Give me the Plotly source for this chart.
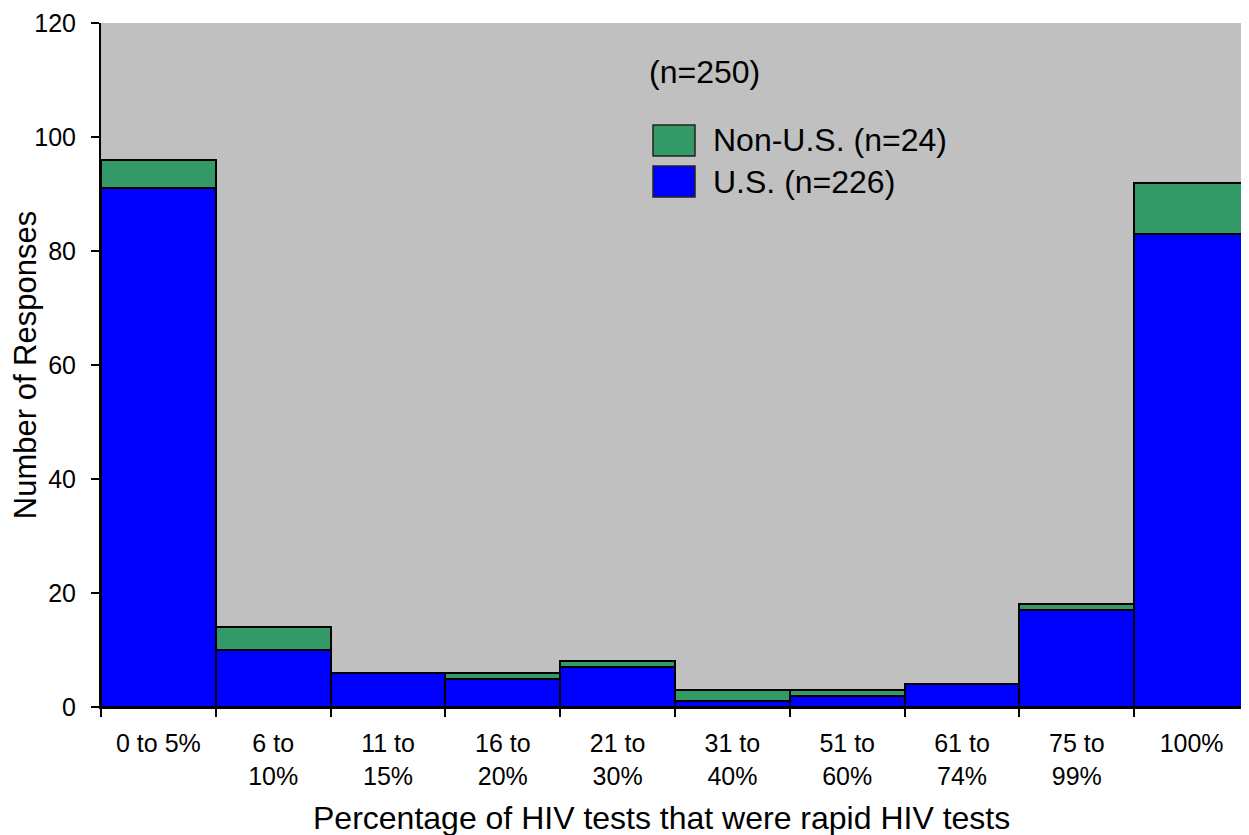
import plotly.graph_objects as go

categories = ["0 to 5%", "6 to<br>10%", "11 to<br>15%", "16 to<br>20%", "21 to<br>30%",
              "31 to<br>40%", "51 to<br>60%", "61 to<br>74%", "75 to<br>99%", "100%"]
us_values = [91, 10, 6, 5, 7, 1, 2, 4, 17, 83]
non_us_values = [5, 4, 0, 1, 1, 2, 1, 0, 1, 9]
y_ticks = [0, 20, 40, 60, 80, 100, 120]

FONT = "Liberation Sans, Arial, sans-serif"
BLUE = "#0000FF"
GREEN = "#339966"

fig = go.Figure()
fig.add_trace(go.Bar(x=categories, y=us_values, name="U.S. (n=226)",
                     marker=dict(color=BLUE, line=dict(color="black", width=2.5)),
                     showlegend=False))
fig.add_trace(go.Bar(x=categories, y=non_us_values, name="Non-U.S. (n=24)",
                     marker=dict(color=GREEN, line=dict(color="black", width=2.5)),
                     showlegend=False))

# screen-pixel -> paper coordinate helpers (plot area spans x 101..1249, y 23..707 on screen)
TOP = 23
def px_x(p):
    return (p - 101) / 1148

def px_y(p):
    return (707 - p) / (707 - TOP)

shapes = [
    dict(type="rect", xref="paper", yref="paper", x0=px_x(653), x1=px_x(695),
         y0=px_y(156), y1=px_y(125), fillcolor=GREEN, line=dict(color="#222", width=1.5)),
    dict(type="rect", xref="paper", yref="paper", x0=px_x(653), x1=px_x(695),
         y0=px_y(197), y1=px_y(166), fillcolor=BLUE, line=dict(color="#222", width=1.5)),
]
annotations = [
    dict(text="(n=250)", xref="paper", yref="paper", x=px_x(647), y=px_y(72),
         showarrow=False, font=dict(family=FONT, size=32, color="black"), xanchor="left", yanchor="middle"),
    dict(text="Non-U.S. (n=24)", xref="paper", yref="paper", x=px_x(711), y=px_y(140),
         showarrow=False, font=dict(family=FONT, size=32, color="black"), xanchor="left", yanchor="middle"),
    dict(text="U.S. (n=226)", xref="paper", yref="paper", x=px_x(711), y=px_y(182),
         showarrow=False, font=dict(family=FONT, size=32, color="black"), xanchor="left", yanchor="middle"),
    dict(text="Percentage of HIV tests that were rapid HIV tests", xref="paper", yref="paper",
         x=px_x(661), y=px_y(818), showarrow=False,
         font=dict(family=FONT, size=32, color="black"), xanchor="center", yanchor="middle"),
]

fig.update_layout(
    width=1241, height=827,
    barmode="stack", bargap=0,
    plot_bgcolor="#C0C0C0", paper_bgcolor="white",
    margin=dict(l=93, r=0, t=TOP - 8, b=128, autoexpand=False),
    font=dict(family=FONT, color="black"),
    shapes=shapes, annotations=annotations,
    xaxis=dict(
        type="category", range=[-0.5, 9.5], tickson="boundaries",
        ticks="outside", ticklen=8, tickcolor="black", tickwidth=1.5,
        showline=True, linecolor="black", linewidth=2, showgrid=False,
        tickfont=dict(family=FONT, size=25, color="black"),
        ticklabelstandoff=13, ticklabeloverflow="allow",
    ),
    yaxis=dict(
        range=[0, 120], tickvals=y_ticks, ticks="outside", ticklen=8,
        tickcolor="black", tickwidth=1.5, showline=True, linecolor="black", linewidth=2,
        showgrid=False, zeroline=False,
        tickfont=dict(family=FONT, size=25, color="black"),
        ticklabelstandoff=10, ticklabeloverflow="allow",
        title=dict(text="Number of Responses", font=dict(family=FONT, size=31, color="black"), standoff=0),
    ),
)

fig.write_html("out.html")
